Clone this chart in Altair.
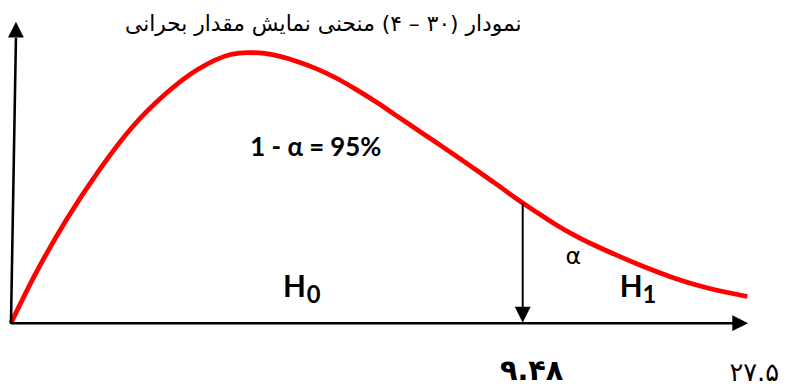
import altair as alt
import pandas as pd

# ---- data ----
curve_x = [0, 0.403, 1.027, 1.632, 2.237, 2.860, 3.465, 4.070, 4.382, 4.694,
           5.299, 5.666, 6.032, 6.399, 6.766, 7.132, 7.499, 7.866, 8.232, 8.599,
           8.966, 9.333, 9.48, 9.699, 10.066, 10.433, 10.800, 11.166, 11.661,
           12.266, 12.871, 13.641]
curve_y = [0, 29.67, 69.67, 103, 131.67, 154.33, 171, 181, 182.33, 181.67,
           176.33, 171.33, 165, 157.33, 149, 140, 131, 122, 113, 103.67,
           94.33, 84.67, 81, 75.67, 67, 59.33, 52.67, 46.67, 39,
           30.67, 24, 18]
critical_value = 9.48
title_text = "نمودار (۳۰ – ۴) منحنی نمایش مقدار بحرانی"
critical_label = "۹.۴۸"
end_label = "۲۷.۵"
area_label = "1 - α = 95%"
alpha_label = "α"
hyp_main = ["H", "H"]
hyp_sub = ["0", "1"]

# ---- layout (data units of the drawing) ----
xs = alt.Scale(domain=[-0.055, 14.265], nice=False, zero=False)
ys = alt.Scale(domain=[-41.67, 211], nice=False, zero=False)


def X(f):
    return alt.X(f, type="quantitative", scale=xs, axis=None)


def Y(f):
    return alt.Y(f, type="quantitative", scale=ys, axis=None)


curve_df = pd.DataFrame({"x": curve_x, "y": curve_y})
crit_y = curve_y[curve_x.index(critical_value)]

curve = alt.Chart(curve_df).mark_line(
    color="#ff0000", strokeWidth=4.8, interpolate="monotone", strokeCap="butt"
).encode(x=X("x"), y=Y("y"))

axes_df = pd.DataFrame({
    "x": [0.0, 0.0, critical_value],
    "y": [0.0, -0.5, crit_y],
    "x2": [13.45, 0.092, critical_value],
    "y2": [0.0, 192.3, 10.3],
    "w": [2.6, 2.6, 2.0],
})
axes = alt.Chart(axes_df).mark_rule(color="black").encode(
    x=X("x"), y=Y("y"), x2=alt.X2("x2"), y2=alt.Y2("y2"),
    strokeWidth=alt.StrokeWidth("w:Q", scale=None, legend=None),
)

heads_df = pd.DataFrame({
    "x": [13.51, 0.092, critical_value],
    "y": [0.0, 197.7, 5.67],
    "shape": ["M-1,-1L1,0L-1,1Z", "M0,-1L1,1L-1,1Z", "M-1,-1L1,-1L0,1Z"],
})
heads = alt.Chart(heads_df).mark_point(
    filled=True, size=256, color="black", opacity=1, strokeWidth=0
).encode(
    x=X("x"), y=Y("y"),
    shape=alt.Shape("shape:N", scale=None, legend=None),
)


def label(text, x, y, font, size, weight="normal", align="left"):
    df = pd.DataFrame({"x": [x], "y": [y], "t": [text]})
    return alt.Chart(df).mark_text(
        align=align, baseline="alphabetic", font=font, fontSize=size,
        fontWeight=weight, color="black"
    ).encode(x=X("x"), y=Y("y"), text="t:N")


layers = [
    curve, axes, heads,
    label(title_text, 9.46, 196.7, "DejaVu Sans", 22, align="right"),
    label(area_label, 5.647, 112.3, "Lato", 26, "bold", "center"),
    label(alpha_label, 10.42, 39.7, "DejaVu Sans", 24, align="center"),
    label(hyp_main[0], 5.04, 17.67, "Lato", 30, "bold"),
    label(hyp_sub[0], 5.48, 13.67, "Lato", 24, "bold"),
    label(hyp_main[1], 11.28, 17.67, "Lato", 30, "bold"),
    label(hyp_sub[1], 11.70, 13.67, "Lato", 24, "bold"),
    label(critical_label, 9.058, -38.3, "DejaVu Sans", 29, "bold", "left"),
    label(end_label, 14.228, -39.0, "DejaVu Sans", 26, align="right"),
]

chart = alt.layer(*layers).properties(
    width=781, height=379,
    autosize=alt.AutoSizeParams(type="none"),
    padding=0,
).configure_view(stroke=None)

chart.save("out.html", embed_options={"renderer": "svg", "actions": False})
